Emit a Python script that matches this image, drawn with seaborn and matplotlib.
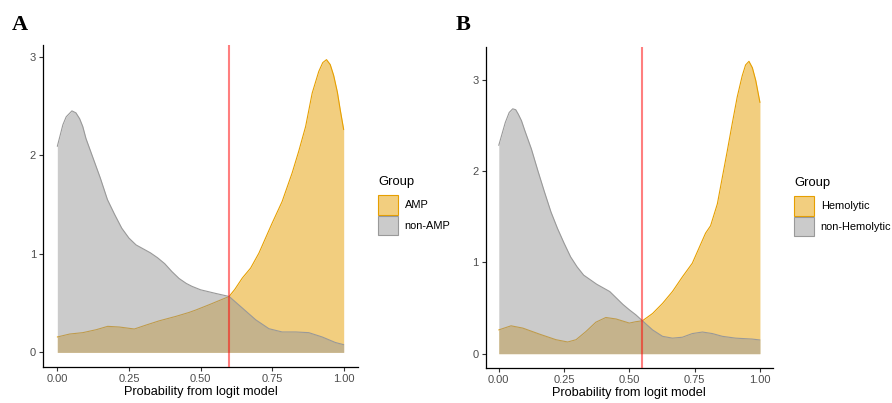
import numpy as np
import pandas as pd
import seaborn as sns
import matplotlib
matplotlib.use("Agg")
import matplotlib.pyplot as plt
from matplotlib.patches import Patch
from matplotlib.colors import to_rgba

# ---------------- data ----------------
# Panel A
a_x_amp = [0, 0.043, 0.089, 0.136, 0.176, 0.217, 0.269, 0.31, 0.356, 0.414, 0.46,
           0.484, 0.53, 0.6, 0.62, 0.646, 0.675, 0.704, 0.75, 0.785, 0.82, 0.843,
           0.867, 0.89, 0.913, 0.927, 0.94, 0.953, 0.965, 0.978, 0.988, 1.0]
a_amp = [0.156, 0.186, 0.2, 0.23, 0.264, 0.257, 0.237, 0.277, 0.32, 0.365, 0.405,
         0.43, 0.483, 0.567, 0.64, 0.754, 0.855, 1.007, 1.31, 1.53, 1.82, 2.04,
         2.29, 2.63, 2.85, 2.94, 2.97, 2.92, 2.81, 2.64, 2.46, 2.26]
a_x_non = [0, 0.0195, 0.031, 0.051, 0.065, 0.078, 0.089, 0.1, 0.125, 0.15, 0.175,
           0.2, 0.225, 0.25, 0.275, 0.3, 0.325, 0.35, 0.375, 0.4, 0.425, 0.45, 0.47,
           0.5, 0.55, 0.6, 0.646, 0.693, 0.739, 0.785, 0.832, 0.878, 0.925, 0.971,
           1.0]
a_non = [2.09, 2.31, 2.39, 2.45, 2.43, 2.37, 2.29, 2.17, 1.97, 1.77, 1.55, 1.40,
         1.26, 1.16, 1.09, 1.05, 1.01, 0.96, 0.90, 0.82, 0.75, 0.70, 0.67, 0.635,
         0.60, 0.567, 0.45, 0.33, 0.24, 0.207, 0.207, 0.2, 0.156, 0.10, 0.078]
a_groups = ["AMP", "non-AMP"]
a_cut = 0.6

# Panel B
b_x_hem = [0, 0.047, 0.092, 0.155, 0.219, 0.264, 0.296, 0.334, 0.372, 0.41, 0.449,
           0.5, 0.525, 0.55, 0.589, 0.627, 0.665, 0.703, 0.741, 0.792, 0.811, 0.837,
           0.856, 0.875, 0.894, 0.913, 0.932, 0.945, 0.958, 0.971, 0.984, 1.0]
b_hem = [0.26, 0.305, 0.28, 0.215, 0.153, 0.128, 0.153, 0.243, 0.345, 0.396, 0.38,
         0.335, 0.35, 0.36, 0.44, 0.55, 0.68, 0.84, 0.99, 1.32, 1.40, 1.64,
         1.93, 2.22, 2.52, 2.81, 3.04, 3.16, 3.20, 3.13, 2.99, 2.75]
b_x_non = [0, 0.025, 0.04, 0.0535, 0.065, 0.075, 0.087, 0.1, 0.125, 0.15, 0.175,
           0.2, 0.225, 0.25, 0.275, 0.3, 0.325, 0.35, 0.375, 0.4, 0.425, 0.45, 0.475,
           0.5, 0.525, 0.55, 0.589, 0.627, 0.665, 0.703, 0.741, 0.78, 0.818, 0.856,
           0.907, 0.97, 1.0]
b_non = [2.28, 2.53, 2.64, 2.68, 2.67, 2.62, 2.55, 2.44, 2.24, 2.0, 1.77, 1.55,
         1.37, 1.21, 1.06, 0.95, 0.86, 0.81, 0.76, 0.72, 0.68, 0.61, 0.54, 0.48,
         0.425, 0.36, 0.26, 0.19, 0.17, 0.18, 0.22, 0.237, 0.22, 0.19, 0.17, 0.16,
         0.15]
b_groups = ["Hemolytic", "non-Hemolytic"]
b_cut = 0.55

x_ticks = [0.0, 0.25, 0.5, 0.75, 1.0]
x_ticklabels = ["0.00", "0.25", "0.50", "0.75", "1.00"]
y_ticks = [0, 1, 2, 3]
x_title = "Probability from logit model"
legend_title = "Group"

ORANGE = "#E69F00"
GREY = "#999999"

# ---------------- style ----------------
sns.set_theme(style="white")
plt.rcParams["font.family"] = ["Liberation Sans", "DejaVu Sans"]

fig = plt.figure(figsize=(8.92, 4.03), dpi=100)
W, H = 892, 403


def ax_rect(l, t, r, b):
    return [l / W, 1 - b / H, (r - l) / W, (b - t) / H]


axA = fig.add_axes(ax_rect(43, 45, 358, 367))
axB = fig.add_axes(ax_rect(485.7, 46.7, 773, 368.3))


def draw(ax, xs1, ys1, xs2, ys2, groups, cut, ymax, leg_xy):
    df = pd.concat([
        pd.DataFrame({"x": xs1, "density": ys1, "Group": groups[0]}),
        pd.DataFrame({"x": xs2, "density": ys2, "Group": groups[1]}),
    ], ignore_index=True)
    cols = {groups[0]: ORANGE, groups[1]: GREY}
    z = {groups[0]: 1, groups[1]: 3}
    for g in groups:
        sub = df[df["Group"] == g]
        ax.fill_between(sub["x"], 0, sub["density"], color=cols[g], alpha=0.5,
                        lw=0, zorder=z[g])
        sns.lineplot(data=sub, x="x", y="density", color=cols[g], lw=0.8,
                     ax=ax, zorder=z[g] + 0.5, legend=False)
    ax.axvline(cut, color="red", alpha=0.5, lw=1.5, zorder=6)
    ax.set_xlim(-0.05, 1.05)
    ax.set_ylim(-0.05 * ymax, ymax * 1.05)
    ax.set_xticks(x_ticks)
    ax.set_xticklabels(x_ticklabels)
    ax.set_yticks(y_ticks)
    ax.set_xlabel(x_title, fontsize=9.2, color="black", labelpad=1.5)
    ax.set_ylabel("")
    for s in ["top", "right"]:
        ax.spines[s].set_visible(False)
    for s in ["left", "bottom"]:
        ax.spines[s].set_color("black")
        ax.spines[s].set_linewidth(0.9)
    ax.tick_params(axis="both", which="major", length=3, width=0.8,
                   color="#333333", labelsize=8, labelcolor="#4D4D4D",
                   pad=2, bottom=True, left=True)
    ax.set_facecolor("white")
    handles = [Patch(facecolor=to_rgba(cols[g], 0.5), edgecolor=cols[g], lw=0.8)
               for g in groups]
    leg = ax.legend(handles, groups, title=legend_title, loc="upper left",
                    bbox_to_anchor=(leg_xy[0] / W, 1 - leg_xy[1] / H),
                    bbox_transform=fig.transFigure, frameon=False,
                    fontsize=7.9, title_fontsize=9.4, borderpad=0,
                    handlelength=1.83, handleheight=2.4, labelspacing=0.08,
                    handletextpad=0.6, borderaxespad=0)
    leg._legend_box.align = "left"
    leg._legend_box.sep = 5
    leg.get_title().set_color("black")
    for t in leg.get_texts():
        t.set_color("black")


draw(axA, a_x_amp, a_amp, a_x_non, a_non, a_groups, a_cut, 2.97, (378, 176))
draw(axB, b_x_hem, b_hem, b_x_non, b_non, b_groups, b_cut, 3.20, (794, 177))

fig.text(12 / W, 1 - 30.5 / H, "A", fontsize=16, fontweight="bold", color="black",
         family="Liberation Serif", ha="left", va="baseline")
fig.text(456 / W, 1 - 30.5 / H, "B", fontsize=16, fontweight="bold", color="black",
         family="Liberation Serif", ha="left", va="baseline")

fig.savefig("out.png", dpi=100, facecolor="white")
